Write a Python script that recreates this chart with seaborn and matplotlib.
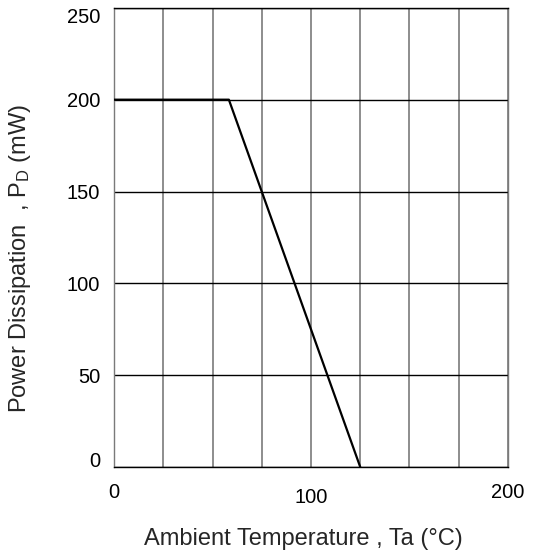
import matplotlib
matplotlib.use("Agg")
import matplotlib.pyplot as plt
import seaborn as sns
import pandas as pd

# derating curve
temp_c = [0, 58.3, 125]
power_mw = [200, 200, 0]

x_ticks = [0, 25, 50, 75, 100, 125, 150, 175, 200]
x_labels = ["0", "", "", "", "100", "", "", "", "200"]
y_ticks = [0, 50, 100, 150, 200, 250]

df = pd.DataFrame({"temp": temp_c, "power": power_mw})

sns.set_style("white")
plt.rcParams["font.family"] = ["Liberation Sans", "DejaVu Sans"]
plt.rcParams["mathtext.fontset"] = "custom"
plt.rcParams["mathtext.rm"] = "Liberation Sans"
plt.rcParams["mathtext.it"] = "Liberation Sans:italic"

fig = plt.figure(figsize=(5.33, 5.6), dpi=100)
ax = fig.add_axes([0.214, 0.166, 0.739, 0.820])

sns.lineplot(data=df, x="temp", y="power", color="black", linewidth=1.6,
             ax=ax, zorder=5)

ax.set_xlim(0, 200)
ax.set_ylim(0, 250)
ax.set_xticks(x_ticks)
ax.set_xticklabels(x_labels)
ax.set_yticks(y_ticks)

ax.grid(False)
for xv in x_ticks:
    ax.axvline(xv, color="#7a7a7a", linewidth=1.2, zorder=1)
for yv in y_ticks:
    ax.axhline(yv, color="black", linewidth=1.0, zorder=2)

for name, sp in ax.spines.items():
    sp.set_visible(True)
    sp.set_linewidth(1.0)
    sp.set_color("black" if name in ("top", "bottom") else "#7a7a7a")

ax.tick_params(axis="both", length=0, labelsize=14.5, colors="black")
ax.tick_params(axis="y", pad=10)
ax.tick_params(axis="x", pad=11.5)
# the "100" label sits lower than the end labels in the original
ax.xaxis.get_major_ticks()[4].set_pad(15)

# end labels on the y axis are pulled inside the frame
ylabs = ax.get_yticklabels()
ylabs[0].set_va("baseline")
ylabs[-1].set_va("top")

ax.set_xlabel("Ambient Temperature , Ta (°C)", fontsize=17)
ax.set_ylabel(r"Power Dissipation  , P$_{\mathrm{D}}$ (mW)", fontsize=17)
ax.xaxis.set_label_coords(0.48, -0.132)
ax.yaxis.set_label_coords(-0.206, 0.455)

fig.savefig("out.png", dpi=100)
